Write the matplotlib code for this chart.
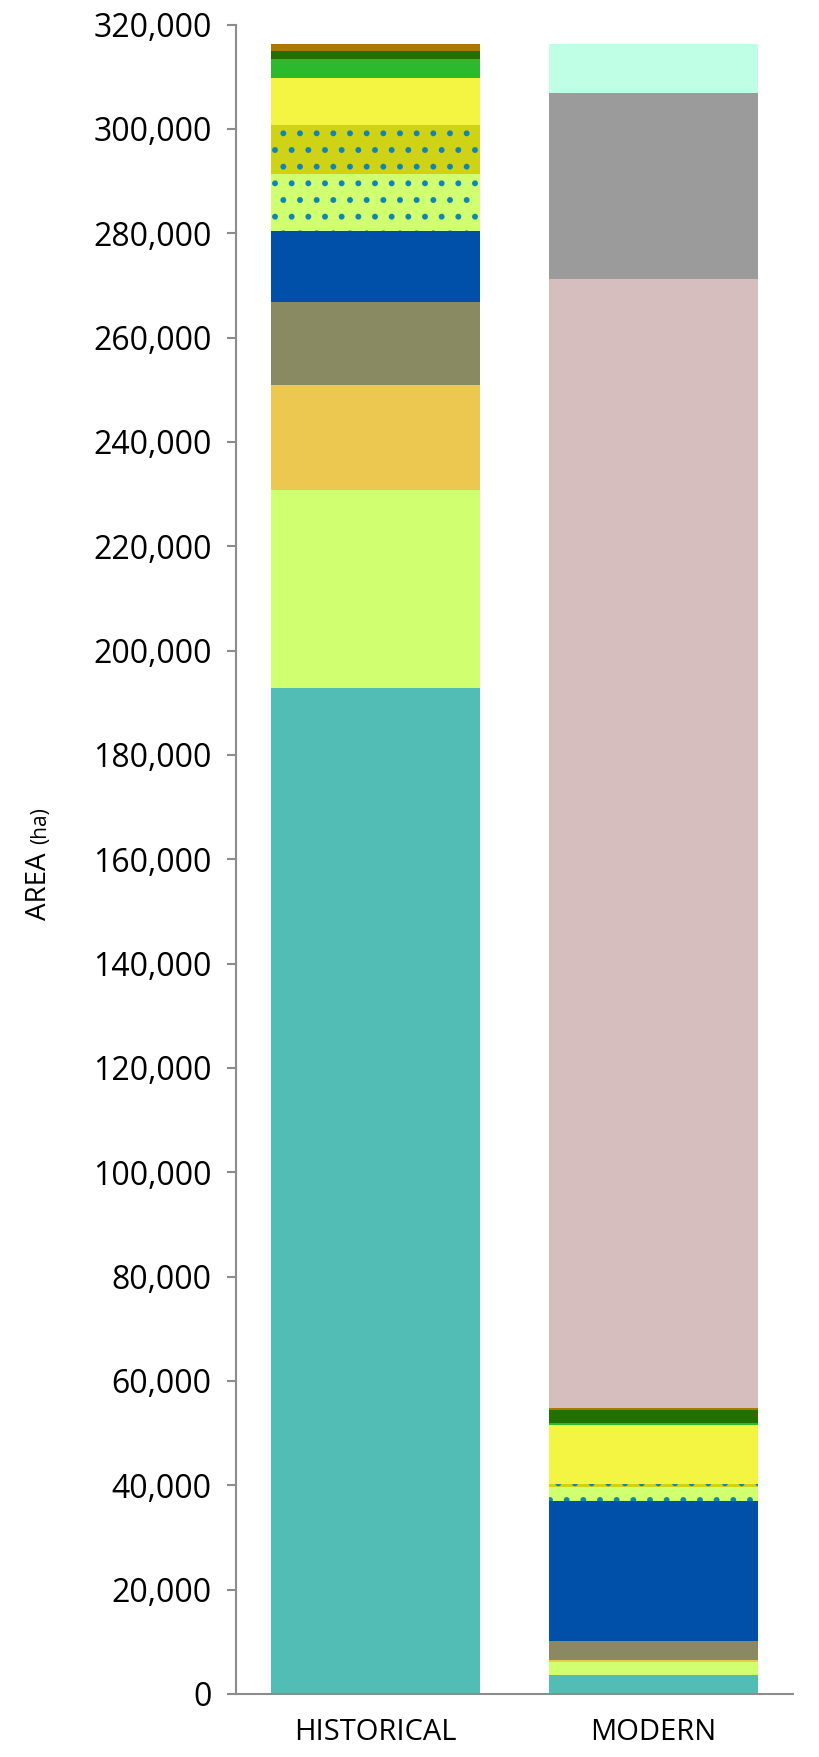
import numpy as np
import matplotlib.pyplot as plt
from matplotlib.ticker import FuncFormatter

plt.rcParams['font.family'] = ['Open Sans', 'DejaVu Sans']
plt.rcParams['hatch.linewidth'] = 1.8

periods = ['HISTORICAL', 'MODERN']

# area (ha) per class, bottom of the stack to the top
teal = [192900, 3600]
light_green = [37800, 2600]
ochre = [20300, 300]
olive = [15800, 3700]
blue = [13600, 26850]
light_green_dots = [10900, 2700]
olive_dots = [9400, 500]
yellow = [9000, 11300]
green = [3700, 400]
dark_green = [1500, 2500]
brown = [1400, 400]
pink = [0, 216350]
grey = [0, 35650]
aqua = [0, 9400]

dot_col = '#0E86B5'
layers = [
    (teal, '#52BDB4', None),
    (light_green, '#D0FF70', None),
    (ochre, '#ECC850', None),
    (olive, '#8A8A62', None),
    (blue, '#004FA8', None),
    (light_green_dots, '#D0FF70', '.'),
    (olive_dots, '#CFD215', '.'),
    (yellow, '#F4F542', None),
    (green, '#2DB92D', None),
    (dark_green, '#237000', None),
    (brown, '#AA7A00', None),
    (pink, '#D6BEBE', None),
    (grey, '#9B9B9B', None),
    (aqua, '#BEFFE6', None),
]

fig = plt.figure(figsize=(8.2, 17.57), dpi=100)
ax = fig.add_axes([0.2878, 0.0359, 0.967 - 0.2878, 0.986 - 0.0359])

x = np.arange(len(periods))
bottom = np.zeros(len(periods))
for vals, col, hatch in layers:
    vals = np.array(vals, dtype=float)
    if hatch:
        ax.bar(x, vals, 0.75, bottom=bottom, color=col, edgecolor=dot_col,
               linewidth=0, hatch=hatch)
    else:
        ax.bar(x, vals, 0.75, bottom=bottom, color=col, linewidth=0)
    bottom += vals

ax.set_xlim(-0.5, 1.5)
ax.set_ylim(0, 320000)
ax.set_yticks(np.arange(0, 320001, 20000))
ax.yaxis.set_major_formatter(FuncFormatter(lambda v, p: f'{int(v):,}'))
ax.set_xticks(x)
ax.set_xticklabels(periods, fontsize=21)

for s in ['top', 'right']:
    ax.spines[s].set_visible(False)
for s in ['left', 'bottom']:
    ax.spines[s].set_color('#8C8C8C')
    ax.spines[s].set_linewidth(1.5)

ax.tick_params(axis='y', length=6.5, width=1.5, color='#8C8C8C', pad=11, labelsize=23)
ax.tick_params(axis='x', length=0, pad=17)

fig.text(0.048, 0.4955, 'AREA', rotation=90, fontsize=20, ha='center', va='center')
fig.text(0.049, 0.530, '(ha)', rotation=90, fontsize=15, ha='center', va='center')

plt.savefig('out.png', dpi=100)
